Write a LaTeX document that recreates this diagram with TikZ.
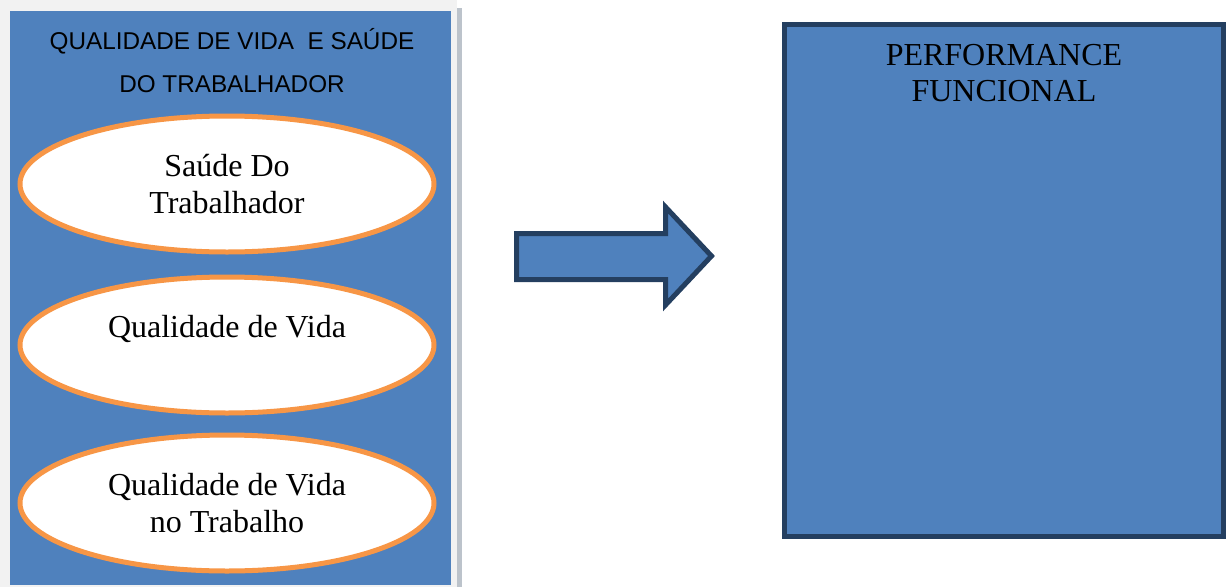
\documentclass[tikz,border=0pt]{standalone}
\usepackage{fontspec}
\setmainfont{Liberation Serif}
\newfontfamily\titlefont{Liberation Sans}
\usetikzlibrary{shapes.geometric}
\definecolor{panelblue}{HTML}{4F81BD}
\definecolor{navy}{HTML}{243F60}
\definecolor{ovalorange}{HTML}{F79646}
\definecolor{framegrey}{HTML}{F2F2F2}
\definecolor{shadowgrey}{HTML}{BCC3CB}
\tikzset{
  oval/.style={ellipse, draw=ovalorange, line width=5pt, fill=white,
    minimum width=414pt, minimum height=136pt, inner sep=0pt,
    align=center, font=\fontsize{32}{37}\selectfont},
  bluebox/.style={rectangle, draw=navy, line width=5pt, fill=panelblue,
    inner sep=0pt},
  arrowshape/.style={draw=navy, line width=5pt, fill=panelblue, line join=miter},
  serifbig/.style={align=center, font=\fontsize{32}{36}\selectfont, inner sep=0pt},
  titletext/.style={align=center, font=\titlefont\fontsize{24.3}{43}\selectfont, inner sep=0pt}
}
\begin{document}
\begin{tikzpicture}[x=1pt,y=-1pt]
\useasboundingbox (0,0) rectangle (1227,587);
% left panel frame and shadow
\node[rectangle, fill=framegrey, minimum width=457pt, minimum height=587pt, inner sep=0pt, anchor=north west] (frame) at (0,0) {};
\node[rectangle, fill=shadowgrey, minimum width=5pt, minimum height=579pt, inner sep=0pt, anchor=north west] (shadow) at (457,8) {};
\node[rectangle, fill=panelblue, minimum width=441pt, minimum height=574pt, inner sep=0pt, anchor=north west] (panel) at (10,11) {};
\node[titletext] (title) at (232,61) {QUALIDADE DE VIDA\ \ E SAÚDE\\DO TRABALHADOR};
% ovals
\node[oval] (e1) at (227,184) {Saúde Do\\Trabalhador};
\node[oval] (e2) at (227,345) {Qualidade de Vida\\\mbox{}};
\node[oval] (e3) at (227,503) {Qualidade de Vida\\no Trabalho};
% arrow
\draw[arrowshape] (516.5,233.5) -- (665.5,233.5) -- (665.5,207) -- (711.5,256)
  -- (665.5,305) -- (665.5,279.5) -- (516.5,279.5) -- cycle;
% right box
\node[bluebox, minimum width=439pt, minimum height=512pt] (perf) at (1004,280.5) {};
\node[serifbig] (perftext) at (1004,73) {PERFORMANCE\\FUNCIONAL};
\end{tikzpicture}
\end{document}
